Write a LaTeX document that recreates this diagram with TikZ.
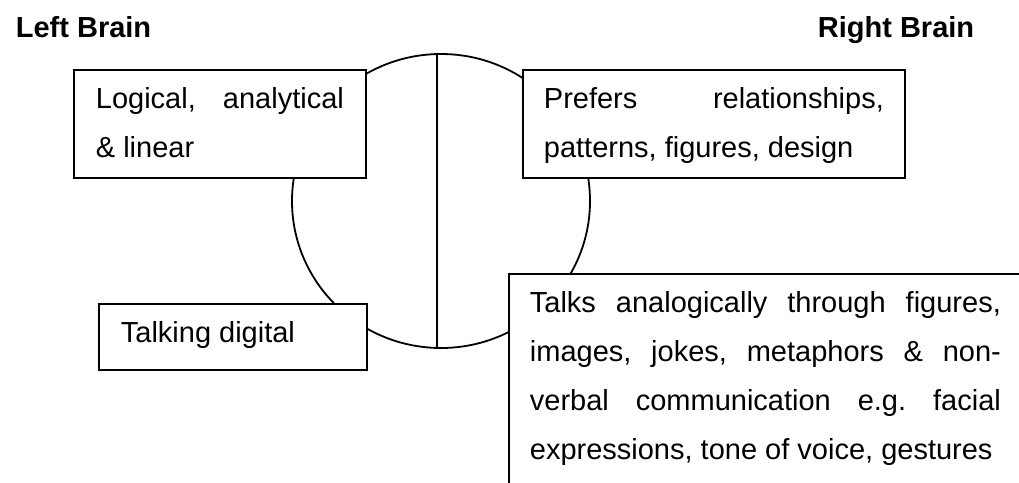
\documentclass[tikz,border=0pt]{standalone}
\usepackage{fontspec}
\setmainfont{Liberation Sans}
\usetikzlibrary{shapes.geometric}
\begin{document}
\begin{tikzpicture}[x=1pt,y=-1pt,
  line width=1.8pt,
  head/.style={anchor=base west, inner sep=0pt, font={\fontsize{29}{35}\selectfont\bfseries}},
  box/.style={draw, fill=white, anchor=north west, inner xsep=22pt, inner ysep=0pt,
    align=justify, text height=39pt,
    font={\fontsize{29}{49}\selectfont\frenchspacing\tolerance=10000\hyphenpenalty=10000}},
  brainshape/.style={draw, ellipse, minimum width=298pt, minimum height=294pt, inner sep=0pt}]
\clip (0,0) rectangle (1019,482);
\node[head] (lb) at (15,37) {Left Brain};
\node[head] (rb) at (817,37) {Right Brain};
\node[brainshape] (brain) at (441,201) {};
\draw ([xshift=-4pt]brain.north) -- ([xshift=-4pt]brain.south);
\node[box, text width=248pt, text depth=69pt] (b1) at (73,69) {Logical, analytical\linebreak \& linear};
\node[box, inner xsep=21pt, text width=340pt, text depth=69pt] (b2) at (522,69) {Prefers relationships,\linebreak patterns, figures, design};
\node[box, text width=224pt, text depth=27pt] (b3) at (98,303) {Talking digital};
\node[box, inner xsep=21pt, text width=471pt, text depth=195pt] (b4) at (508,273) {Talks analogically through figures,\linebreak images, jokes, metaphors \& non-\linebreak verbal communication e.g. facial\linebreak expressions, tone of voice, gestures};
\end{tikzpicture}
\end{document}
